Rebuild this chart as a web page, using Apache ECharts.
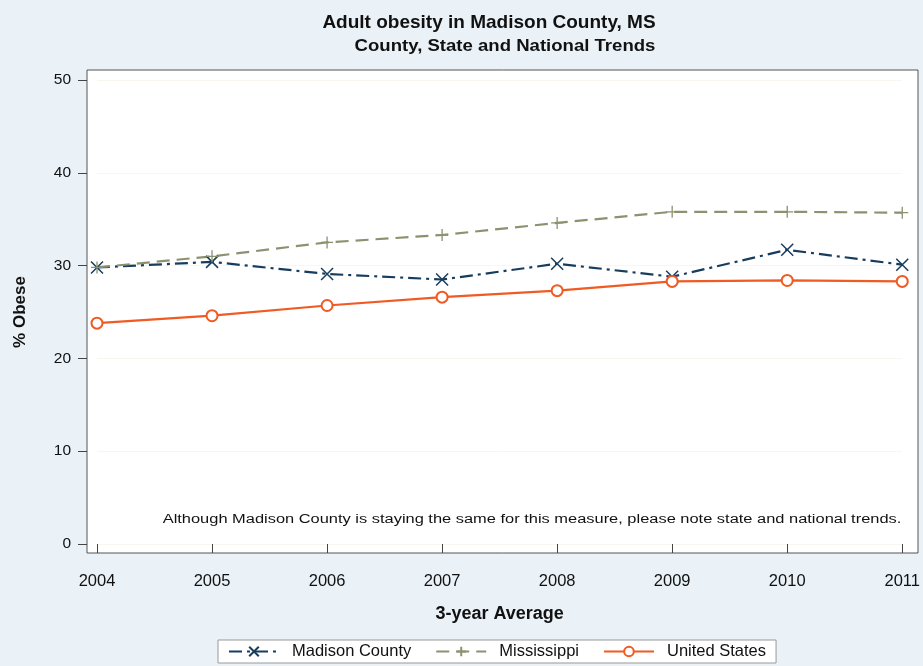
<!DOCTYPE html>
<html><head><meta charset="utf-8">
<script src="https://cdn.jsdelivr.net/npm/echarts@6/dist/echarts.min.js"></script>
<style>html,body{margin:0;padding:0;background:#eaf2f8;}#c{width:923px;height:666px;}</style>
</head><body><div id="c"></div>
<script>
const years = [2004, 2005, 2006, 2007, 2008, 2009, 2010, 2011];
const madison = [29.8, 30.4, 29.1, 28.5, 30.2, 28.8, 31.7, 30.1];
const mississippi = [29.8, 31.0, 32.5, 33.3, 34.6, 35.8, 35.8, 35.7];
const unitedStates = [23.8, 24.6, 25.7, 26.6, 27.3, 28.3, 28.4, 28.3];
const yTicks = [0, 10, 20, 30, 40, 50];
const seriesNames = ['Madison County', 'Mississippi', 'United States'];
const titleText = 'Adult obesity in Madison County, MS';
const subtitleText = 'County, State and National Trends';
const note = 'Although Madison County is staying the same for this measure, please note state and national trends.';

const pair = arr => years.map((y, i) => [y, arr[i]]);
const font = '"Liberation Sans", Arial, sans-serif';
const chart = echarts.init(document.getElementById('c'));
chart.setOption({
  backgroundColor: '#eaf2f8',
  animation: false,
  textStyle: {fontFamily: font},
  graphic: [
    {type: 'rect', z: -1, shape: {x: 87, y: 70, width: 831, height: 483},
     style: {fill: '#ffffff', stroke: '#555', lineWidth: 1}},
    {type: 'text', x: 489, y: 23, scaleX: 1.0, z: 10,
     style: {text: titleText, textAlign: 'center', textVerticalAlign: 'middle',
             fill: '#111', font: 'bold 19px ' + font}},
    {type: 'text', x: 505, y: 47, scaleX: 1.16, z: 10,
     style: {text: subtitleText, textAlign: 'center', textVerticalAlign: 'middle',
             fill: '#111', font: 'bold 16px ' + font}},
    {type: 'text', x: 532, y: 519, scaleX: 1.2, z: 10,
     style: {text: note, textAlign: 'center', textVerticalAlign: 'middle',
             fill: '#111', font: '13.7px ' + font}}
  ],
  grid: {left: 97, right: 17, top: 80, bottom: 122},
  xAxis: {
    type: 'value', min: years[0], max: years[years.length - 1], interval: 1,
    offset: 9,
    name: '3-year Average', nameLocation: 'middle', nameGap: 52,
    nameTextStyle: {fontSize: 18, fontWeight: 'bold', color: '#111'},
    axisLine: {show: false},
    axisTick: {show: true, length: 9, lineStyle: {color: '#444'}},
    axisLabel: {fontSize: 16.5, color: '#111', margin: 20, formatter: v => String(v)},
    splitLine: {show: false}
  },
  yAxis: {
    type: 'value', min: yTicks[0], max: yTicks[yTicks.length - 1], interval: 10,
    offset: 10,
    name: '% Obese', nameLocation: 'middle', nameGap: 58,
    nameTextStyle: {fontSize: 17, fontWeight: 'bold', color: '#111'},
    axisLine: {show: false},
    axisTick: {show: true, length: 9, lineStyle: {color: '#444'}},
    axisLabel: {fontSize: 15.5, color: '#111', margin: 16},
    splitLine: {show: true, lineStyle: {color: '#f8f6ee', width: 1}}
  },
  legend: {
    left: 218, top: 640,
    backgroundColor: '#ffffff', borderColor: '#999', borderWidth: 1,
    padding: [3, 10, 3, 10], itemGap: 24, itemWidth: 50, itemHeight: 12,
    textStyle: {fontSize: 16.5, color: '#111', padding: [0, 0, 0, 8]},
    data: seriesNames
  },
  series: [
    {name: seriesNames[0], type: 'line', data: pair(madison),
     symbol: 'path://M0,0L10,10M10,0L0,10', symbolSize: 12,
     lineStyle: {color: '#173d5e', width: 2.2, type: [13, 5, 3, 5]},
     itemStyle: {color: 'rgba(0,0,0,0)', borderColor: '#173d5e', borderWidth: 1.5}},
    {name: seriesNames[1], type: 'line', data: pair(mississippi),
     symbol: 'path://M5,0L5,10M0,5L10,5', symbolSize: 12,
     lineStyle: {color: '#8c9170', width: 2.2, type: [13, 7]},
     itemStyle: {color: 'rgba(0,0,0,0)', borderColor: '#8c9170', borderWidth: 1.3}},
    {name: seriesNames[2], type: 'line', data: pair(unitedStates),
     symbol: 'emptyCircle', symbolSize: 11,
     lineStyle: {color: '#f05a23', width: 2.2},
     itemStyle: {color: '#f05a23', borderColor: '#f05a23', borderWidth: 1.2}}
  ]
});
</script></body></html>
